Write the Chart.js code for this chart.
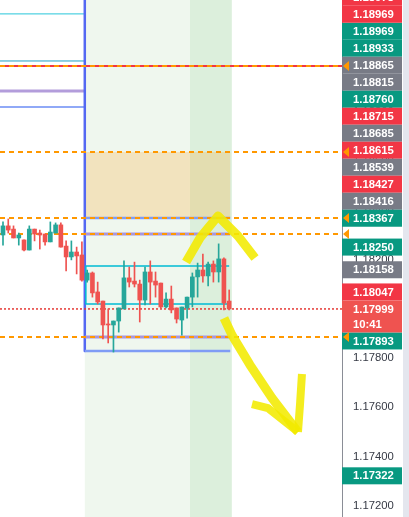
<!DOCTYPE html>
<html>
<head>
<meta charset="utf-8">
<script src="https://cdn.jsdelivr.net/npm/chart.js@4.4.1/dist/chart.umd.min.js"></script>
<style>
  html, body { margin: 0; padding: 0; background: #fff; }
  #wrap { width: 409px; height: 517px; position: relative; }
</style>
</head>
<body>
<div id="wrap"><canvas id="chart"></canvas></div>
<script>
// candles, oldest first (x = bar index)
const opens  = [1.18299,1.18336,1.18323,1.18287,1.18279,1.18238,1.18323,1.18307,1.18303,1.18271,
                1.18307,1.18340,1.18254,1.18210,1.18230,1.18218,1.18116,1.18145,1.18068,1.18031,
                1.17938,1.17934,1.17950,1.17999,1.18125,1.18112,1.18100,1.18035,1.18149,1.18112,
                1.18104,1.18007,1.18039,1.18003,1.17954,1.18003,1.18047,1.18129,1.18157,1.18133,
                1.18181,1.18149,1.18202,1.18031];
const highs  = [1.18352,1.18364,1.18336,1.18307,1.18279,1.18336,1.18323,1.18319,1.18303,1.18352,
                1.18348,1.18348,1.18275,1.18275,1.18250,1.18271,1.18157,1.18149,1.18108,1.18031,
                1.17999,1.17950,1.18003,1.18194,1.18169,1.18189,1.18116,1.18169,1.18194,1.18149,
                1.18104,1.18064,1.18092,1.18003,1.18007,1.18047,1.18145,1.18185,1.18222,1.18189,
                1.18194,1.18263,1.18206,1.18076];
const lows   = [1.18258,1.18307,1.18287,1.18258,1.18234,1.18238,1.18275,1.18242,1.18258,1.18271,
                1.18307,1.18250,1.18153,1.18198,1.18141,1.18112,1.18108,1.18047,1.18019,1.17877,
                1.17861,1.17824,1.17905,1.17999,1.18088,1.18088,1.17946,1.18015,1.18019,1.18047,
                1.18003,1.18003,1.17983,1.17942,1.17893,1.17962,1.18007,1.18047,1.18108,1.18092,
                1.18108,1.18108,1.17995,1.17995];
const closes = [1.18336,1.18319,1.18287,1.18299,1.18238,1.18323,1.18303,1.18299,1.18271,1.18311,
                1.18340,1.18250,1.18210,1.18230,1.18214,1.18116,1.18145,1.18064,1.18027,1.17934,
                1.17934,1.17950,1.18003,1.18125,1.18108,1.18100,1.18035,1.18149,1.18108,1.18096,
                1.18007,1.18039,1.17995,1.17958,1.18007,1.18047,1.18129,1.18157,1.18133,1.18181,
                1.18149,1.18202,1.18023,1.17999];

// visible range
const xMin = -0.57, xMax = 64.45;
const yMin = 1.171549, yMax = 1.192524;
const tickStep = 0.002;

// session zones (bar index)
const zoneStart = 15.55, zoneMid = 35.55, zoneEnd = 43.5;
const boxEnd = 43.2, cyanStart = 15.75, cyanEnd = 43.0;

// levels
const orangeLevels = [1.18985, 1.18636, 1.18368, 1.18303, 1.17885];
const redLevel = 1.18985;
const leftCyanLevels = [1.19196, 1.19005];
const leftPurpleLevel = 1.18883;
const leftBlueLevel = 1.18818;
const tanBox = [1.18636, 1.18368];
const blueBox = [1.18368, 1.17828];
const purpleLevels = [1.18303, 1.17885];
const cyanBox = [1.18173, 1.18019];
const currentPrice = 1.17999;
const currentTime = '10:41';

// price scale labels
const badgePrices = [1.18978, 1.18969, 1.18969, 1.18933, 1.18865, 1.18815, 1.18760, 1.18715, 1.18685,
                     1.18615, 1.18539, 1.18427, 1.18416, 1.18367, 1.18250, 1.18158, 1.18047, 1.17893, 1.17322];
const badgeKinds  = ['down','up','down','up','flat','flat','up','down','flat',
                     'down','flat','down','flat','up','up','flat','down','up','up'];

// hand-drawn marks
const upMarkX = [34.8, 37.45, 40.87, 44.68, 47.91];
const upMarkY = [1.18189, 1.18287, 1.18376, 1.18295, 1.18206];
const downMarkX = [42.02, 43.54, 46.96, 51.14, 56.08];
const downMarkY = [1.17962, 1.17893, 1.17772, 1.17638, 1.17500];
const headLeftX = [47.34, 50.38, 56.08];
const headLeftY = [1.17613, 1.17597, 1.17500];
const headRightX = [56.84, 56.46, 56.08];
const headRightY = [1.17735, 1.17609, 1.17500];

const UP = '#26a69a', DOWN = '#ef5350';
const MARKER = 'rgba(242,234,0,0.88)';
const badgeColors = { up: '#089981', down: '#f23645', flat: '#787b86' };
const FONT = "'Liberation Sans', Arial, sans-serif";

function pts(xs, ys) {
    return xs.map((v, i) => ({ x: v, y: ys[i] }));
}

function seg(data, color, width, order, dash) {
    return {
        type: 'line',
        data: data,
        borderColor: color,
        borderWidth: width,
        borderDash: dash || [],
        borderJoinStyle: 'round',
        pointRadius: 0,
        fill: false,
        tension: 0,
        order: order
    };
}

const candleColors = closes.map((c, i) => c >= opens[i] ? UP : DOWN);

const datasets = [
    seg(pts(upMarkX, upMarkY), MARKER, 9, 0),
    seg(pts(downMarkX, downMarkY), MARKER, 9, 0),
    seg(pts(headLeftX, headLeftY), MARKER, 8, 0),
    seg(pts(headRightX, headRightY), MARKER, 8, 0),
    {
        type: 'bar',
        data: opens.map((o, i) => ({ x: i, y: [o, closes[i]] })),
        backgroundColor: candleColors,
        barThickness: 4,
        minBarLength: 1,
        grouped: false,
        order: 1
    },
    {
        type: 'bar',
        data: lows.map((l, i) => ({ x: i, y: [l, highs[i]] })),
        backgroundColor: candleColors,
        barThickness: 1,
        grouped: false,
        order: 2
    },
    seg(pts([xMin, xMax], [currentPrice, currentPrice]), '#e53935', 1.5, 3, [2, 2]),
    ...orangeLevels.map(v => seg(pts([xMin, xMax], [v, v]), '#ff9800', 2, 4, [5, 4])),
    ...purpleLevels.map(v => seg(pts([zoneStart, boxEnd], [v, v]), '#a996dc', 3, 5)),
    seg(pts([cyanEnd, cyanStart, cyanStart, cyanEnd], [cyanBox[0], cyanBox[0], cyanBox[1], cyanBox[1]]), '#00bcd4', 1.5, 5),
    ...blueBox.map(v => seg(pts([zoneStart, boxEnd], [v, v]), '#7f9cf5', 2.5, 6)),
    seg(pts([zoneStart, zoneStart], [yMax, blueBox[1]]), '#5468f2', 2.5, 6),
    seg(pts([xMin, xMax], [redLevel, redLevel]), '#f23645', 2, 7),
    seg(pts([xMin, zoneStart], [leftPurpleLevel, leftPurpleLevel]), '#b39ddb', 3, 7),
    seg(pts([xMin, zoneStart], [leftBlueLevel, leftBlueLevel]), '#90a9f7', 2, 7),
    seg(pts([xMin, zoneStart], [leftCyanLevels[0], leftCyanLevels[0]]), '#26c6da', 1, 7),
    seg(pts([xMin, zoneStart], [leftCyanLevels[1], leftCyanLevels[1]]), '#1e9fc4', 1, 7)
];

const overlayPlugin = {
    id: 'overlay',
    beforeDatasetsDraw(chart) {
        const { ctx, chartArea: a, scales: { x, y } } = chart;
        ctx.save();
        ctx.beginPath();
        ctx.rect(a.left, a.top, a.width, a.height);
        ctx.clip();
        const x0 = x.getPixelForValue(zoneStart);
        const x1 = x.getPixelForValue(zoneMid);
        const x2 = x.getPixelForValue(zoneEnd);
        ctx.fillStyle = '#eff7ee';
        ctx.fillRect(x0, a.top, x1 - x0, a.height);
        ctx.fillStyle = '#dcefdc';
        ctx.fillRect(x1, a.top, x2 - x1, a.height);
        const t0 = y.getPixelForValue(tanBox[0]);
        const t1 = y.getPixelForValue(tanBox[1]);
        ctx.fillStyle = 'rgba(255,152,0,0.2)';
        ctx.fillRect(x0, t0, x.getPixelForValue(boxEnd) - x0, t1 - t0);
        ctx.restore();
    },
    afterDraw(chart) {
        const { ctx, chartArea: a, scales: { y } } = chart;
        const left = a.right, right = left + 60, h = 17;
        ctx.save();
        ctx.fillStyle = '#e4e6ee';
        ctx.fillRect(right + 1, 0, chart.width - right - 1, chart.height);

        // current price badge stays put, the others are pushed away from it
        const curTop = y.getPixelForValue(currentPrice) - h / 2;
        const curBottom = curTop + 32;
        const items = badgePrices.map((p, i) => ({ p, kind: badgeKinds[i], top: y.getPixelForValue(p) - h / 2 }));
        let limit = curTop;
        items.filter(b => b.p > currentPrice).sort((m, n) => m.p - n.p).forEach(b => {
            b.top = Math.min(b.top, limit - h);
            limit = b.top;
        });
        limit = curBottom;
        items.filter(b => b.p < currentPrice).sort((m, n) => n.p - m.p).forEach(b => {
            b.top = Math.max(b.top, limit);
            limit = b.top + h;
        });

        ctx.font = 'bold 11.3px ' + FONT;
        ctx.textBaseline = 'middle';
        ctx.textAlign = 'left';
        items.forEach(b => {
            ctx.fillStyle = badgeColors[b.kind];
            ctx.fillRect(left, b.top, right - left, h);
            ctx.fillStyle = '#fff';
            ctx.fillText(b.p.toFixed(5), left + 11, b.top + h / 2 + 0.5);
        });
        ctx.fillStyle = '#ef5350';
        ctx.fillRect(left, curTop, right - left, curBottom - curTop);
        ctx.fillStyle = '#fff';
        ctx.fillText(currentPrice.toFixed(5), left + 11, curTop + h / 2 + 0.5);
        ctx.fillText(currentTime, left + 11, curTop + h / 2 + 16);

        // level markers on the scale
        ctx.fillStyle = '#ff9800';
        orangeLevels.forEach(v => {
            const py = y.getPixelForValue(v);
            ctx.beginPath();
            ctx.moveTo(left + 1, py);
            ctx.lineTo(left + 7, py - 5);
            ctx.lineTo(left + 7, py + 5);
            ctx.closePath();
            ctx.fill();
        });
        ctx.restore();
    }
};

Chart.defaults.font.family = FONT;

new Chart(document.getElementById('chart'), {
    type: 'bar',
    data: { datasets: datasets },
    options: {
        responsive: true,
        maintainAspectRatio: false,
        animation: false,
        layout: { padding: 0 },
        plugins: { legend: { display: false }, tooltip: { enabled: false } },
        scales: {
            x: {
                type: 'linear',
                min: xMin,
                max: xMax,
                offset: false,
                display: false
            },
            y: {
                type: 'linear',
                position: 'right',
                min: yMin,
                max: yMax,
                grid: { display: false, drawTicks: false },
                border: { display: true, color: '#8a8d96', width: 1 },
                ticks: {
                    stepSize: tickStep,
                    includeBounds: false,
                    autoSkip: false,
                    padding: 11,
                    color: '#363a45',
                    font: { size: 11.3 },
                    callback: v => v.toFixed(5)
                },
                afterFit(scale) {
                    scale.width = 67;
                    scale.paddingTop = 0;
                    scale.paddingBottom = 0;
                }
            }
        }
    },
    plugins: [overlayPlugin]
});
</script>
</body>
</html>
